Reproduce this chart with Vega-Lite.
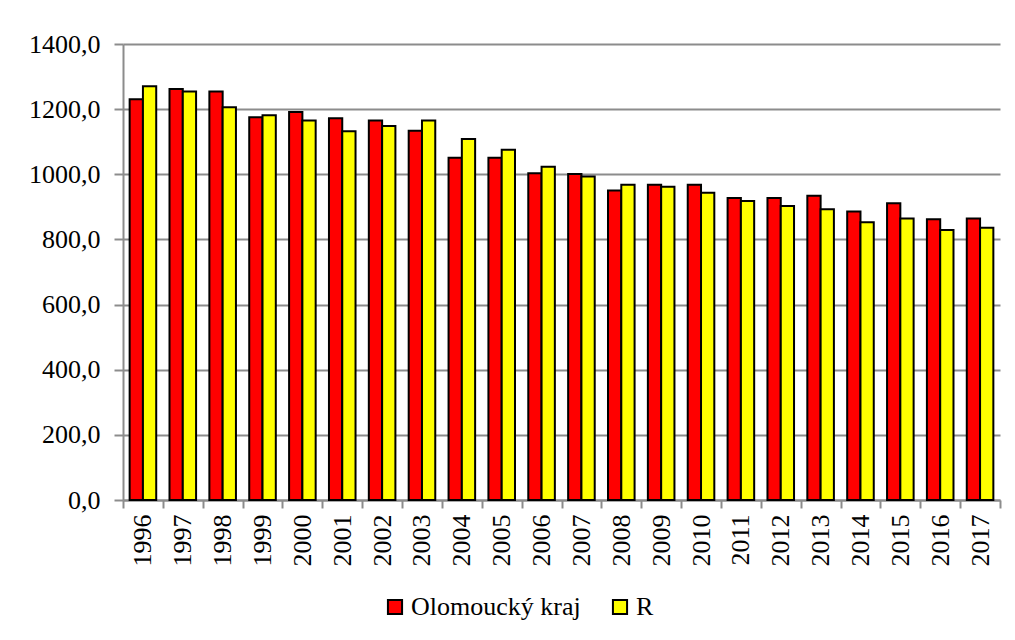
{
  "$schema": "https://vega.github.io/schema/vega-lite/v6.json",
  "width": 877,
  "height": 456,
  "autosize": {"type": "none"},
  "padding": {"left": 123, "top": 44, "right": 15, "bottom": 140},
  "background": "white",
  "data": {
    "values": [
      {"rok": "1996", "serie": "Olomoucký kraj", "hodnota": 1230},
      {"rok": "1996", "serie": "R", "hodnota": 1270},
      {"rok": "1997", "serie": "Olomoucký kraj", "hodnota": 1262},
      {"rok": "1997", "serie": "R", "hodnota": 1254},
      {"rok": "1998", "serie": "Olomoucký kraj", "hodnota": 1254},
      {"rok": "1998", "serie": "R", "hodnota": 1206},
      {"rok": "1999", "serie": "Olomoucký kraj", "hodnota": 1175},
      {"rok": "1999", "serie": "R", "hodnota": 1181},
      {"rok": "2000", "serie": "Olomoucký kraj", "hodnota": 1191},
      {"rok": "2000", "serie": "R", "hodnota": 1165},
      {"rok": "2001", "serie": "Olomoucký kraj", "hodnota": 1172},
      {"rok": "2001", "serie": "R", "hodnota": 1132},
      {"rok": "2002", "serie": "Olomoucký kraj", "hodnota": 1165},
      {"rok": "2002", "serie": "R", "hodnota": 1148},
      {"rok": "2003", "serie": "Olomoucký kraj", "hodnota": 1134},
      {"rok": "2003", "serie": "R", "hodnota": 1165},
      {"rok": "2004", "serie": "Olomoucký kraj", "hodnota": 1051},
      {"rok": "2004", "serie": "R", "hodnota": 1108},
      {"rok": "2005", "serie": "Olomoucký kraj", "hodnota": 1051},
      {"rok": "2005", "serie": "R", "hodnota": 1075},
      {"rok": "2006", "serie": "Olomoucký kraj", "hodnota": 1003},
      {"rok": "2006", "serie": "R", "hodnota": 1023},
      {"rok": "2007", "serie": "Olomoucký kraj", "hodnota": 1001},
      {"rok": "2007", "serie": "R", "hodnota": 993},
      {"rok": "2008", "serie": "Olomoucký kraj", "hodnota": 950},
      {"rok": "2008", "serie": "R", "hodnota": 968},
      {"rok": "2009", "serie": "Olomoucký kraj", "hodnota": 968},
      {"rok": "2009", "serie": "R", "hodnota": 962},
      {"rok": "2010", "serie": "Olomoucký kraj", "hodnota": 968},
      {"rok": "2010", "serie": "R", "hodnota": 943},
      {"rok": "2011", "serie": "Olomoucký kraj", "hodnota": 927},
      {"rok": "2011", "serie": "R", "hodnota": 918},
      {"rok": "2012", "serie": "Olomoucký kraj", "hodnota": 927},
      {"rok": "2012", "serie": "R", "hodnota": 903},
      {"rok": "2013", "serie": "Olomoucký kraj", "hodnota": 934},
      {"rok": "2013", "serie": "R", "hodnota": 893},
      {"rok": "2014", "serie": "Olomoucký kraj", "hodnota": 886},
      {"rok": "2014", "serie": "R", "hodnota": 853},
      {"rok": "2015", "serie": "Olomoucký kraj", "hodnota": 911},
      {"rok": "2015", "serie": "R", "hodnota": 864},
      {"rok": "2016", "serie": "Olomoucký kraj", "hodnota": 862},
      {"rok": "2016", "serie": "R", "hodnota": 829},
      {"rok": "2017", "serie": "Olomoucký kraj", "hodnota": 864},
      {"rok": "2017", "serie": "R", "hodnota": 836}
    ]
  },
  "config": {
    "font": "'Liberation Serif', serif",
    "view": {"stroke": null},
    "axis": {"labelFont": "'Liberation Serif', serif", "labelFontSize": 26},
    "legend": {"labelFont": "'Liberation Serif', serif", "labelFontSize": 26, "labelLimit": 400}
  },
  "mark": {"type": "bar", "stroke": "black", "strokeWidth": 2},
  "encoding": {
    "x": {
      "field": "rok",
      "type": "nominal",
      "scale": {"paddingInner": 0, "paddingOuter": 0},
      "axis": {
        "title": null,
        "labelAngle": -90,
        "labelAlign": "right",
        "labelBaseline": "middle",
        "labelColor": "black",
        "labelPadding": 6,
        "tickBand": "extent",
        "tickSize": 8,
        "tickColor": "#8c8c8c",
        "tickWidth": 2,
        "domainColor": "#8c8c8c",
        "domainWidth": 2
      }
    },
    "xOffset": {
      "field": "serie",
      "type": "nominal",
      "sort": ["Olomoucký kraj", "R"],
      "scale": {"paddingInner": 0, "paddingOuter": 0.5}
    },
    "y": {
      "field": "hodnota",
      "type": "quantitative",
      "scale": {"domain": [0, 1400], "nice": false},
      "axis": {
        "title": null,
        "values": [0, 200, 400, 600, 800, 1000, 1200, 1400],
        "labelExpr": "replace(format(datum.value, '.1f'), '.', ',')",
        "labelColor": "black",
        "labelPadding": 14,
        "tickSize": 9,
        "tickColor": "#8c8c8c",
        "tickWidth": 2,
        "domainColor": "#8c8c8c",
        "domainWidth": 2,
        "grid": true,
        "gridColor": "#8c8c8c",
        "gridWidth": 2
      }
    },
    "color": {
      "field": "serie",
      "type": "nominal",
      "sort": ["Olomoucký kraj", "R"],
      "scale": {"domain": ["Olomoucký kraj", "R"], "range": ["#ff0000", "#ffff00"]},
      "legend": {
        "title": null,
        "orient": "none",
        "direction": "horizontal",
        "legendX": 259,
        "legendY": 550,
        "symbolType": "square",
        "symbolSize": 200,
        "symbolStrokeColor": "black",
        "symbolStrokeWidth": 2,
        "symbolOpacity": 1,
        "labelColor": "black",
        "labelOffset": 3,
        "labelExpr": "datum.value == 'R' ? '\u2003R' : datum.label",
        "columnPadding": 26
      }
    }
  }
}
